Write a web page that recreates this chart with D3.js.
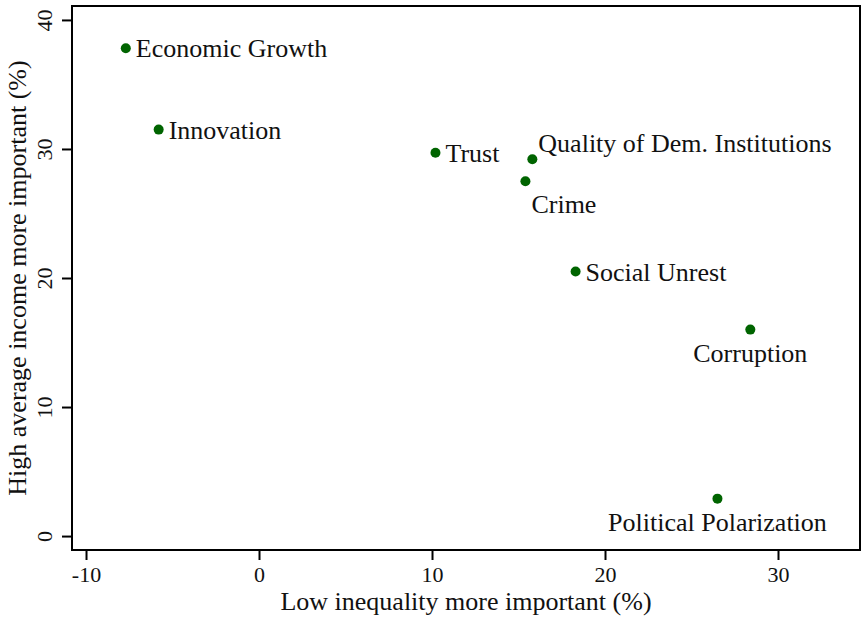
<!DOCTYPE html>
<html>
<head>
<meta charset="utf-8">
<script src="https://cdn.jsdelivr.net/npm/d3@7"></script>
<style>
  body { margin: 0; background: #fff; }
  text { font-family: "Liberation Serif", "DejaVu Serif", serif; fill: #111; }
</style>
</head>
<body>
<div id="chart"></div>
<script>
// values
var topics = ["Economic Growth", "Innovation", "Trust", "Quality of Dem. Institutions",
              "Crime", "Social Unrest", "Corruption", "Political Polarization"];
var lowInequality = [-7.7, -5.8, 10.2, 15.8, 15.4, 18.3, 28.4, 26.5];
var highIncome = [37.8, 31.5, 29.7, 29.2, 27.5, 20.5, 16.0, 2.9];
// where each label sits relative to its marker
var labelPos = ["right", "right", "right", "upright", "belowright", "right", "below", "below"];
var xTicks = [-10, 0, 10, 20, 30];
var yTicks = [0, 10, 20, 30, 40];

var width = 863, height = 619;
var margin = {top: 6, right: 3, bottom: 69, left: 72};

var svg = d3.select("#chart").append("svg")
    .attr("width", width)
    .attr("height", height);

var x = d3.scaleLinear()
    .domain([-10.81, 34.74])
    .range([margin.left, width - margin.right]);

var y = d3.scaleLinear()
    .domain([-1.08, 41.08])
    .range([height - margin.bottom, margin.top]);

// plain hyphen for negatives, like the original
var fmt = function(d) { return String(d); };

// plot frame
svg.append("rect")
    .attr("x", margin.left)
    .attr("y", margin.top)
    .attr("width", width - margin.left - margin.right)
    .attr("height", height - margin.top - margin.bottom)
    .attr("fill", "none")
    .attr("stroke", "#000")
    .attr("stroke-width", 2);

// x axis
var xAxis = svg.append("g")
    .attr("transform", `translate(0, ${height - margin.bottom})`)
    .call(d3.axisBottom(x).tickValues(xTicks).tickSize(10).tickPadding(6).tickFormat(fmt));
xAxis.select(".domain").remove();
xAxis.selectAll("line").attr("stroke-width", 2);
xAxis.selectAll("text")
    .style("font-family", "Liberation Serif")
    .style("font-size", "22px")
    .attr("fill", "#111");

// y axis, labels rotated like the original
var yAxis = svg.append("g")
    .attr("transform", `translate(${margin.left}, 0)`)
    .call(d3.axisLeft(y).tickValues(yTicks).tickSize(10).tickFormat(fmt));
yAxis.select(".domain").remove();
yAxis.selectAll("line").attr("stroke-width", 2);
yAxis.selectAll("text")
    .attr("x", null).attr("dy", null)
    .attr("transform", "translate(-20, 0) rotate(-90)")
    .attr("text-anchor", "middle")
    .style("font-family", "Liberation Serif")
    .style("font-size", "22px")
    .attr("fill", "#111");

// axis titles
svg.append("text")
    .attr("x", (margin.left + width - margin.right) / 2)
    .attr("y", 610)
    .attr("text-anchor", "middle")
    .style("font-size", "26px")
    .text("Low inequality more important (%)");

svg.append("text")
    .attr("transform", `translate(26, ${(margin.top + height - margin.bottom) / 2}) rotate(-90)`)
    .attr("text-anchor", "middle")
    .style("font-size", "26px")
    .text("High average income more important (%)");

var data = topics.map(function(t, i) {
  return {name: t, lx: lowInequality[i], hy: highIncome[i], pos: labelPos[i]};
});

svg.selectAll("circle.pt")
    .data(data)
    .enter()
    .append("circle")
    .attr("class", "pt")
    .attr("cx", function(d) { return x(d.lx); })
    .attr("cy", function(d) { return y(d.hy); })
    .attr("r", 5)
    .attr("fill", "#006400");

svg.selectAll("text.lab")
    .data(data)
    .enter()
    .append("text")
    .attr("class", "lab")
    .style("font-size", "26px")
    .attr("text-anchor", function(d) { return d.pos === "below" ? "middle" : "start"; })
    .attr("x", function(d) {
      if (d.pos === "below") return x(d.lx);
      if (d.pos === "upright") return x(d.lx) + 6;
      if (d.pos === "belowright") return x(d.lx) + 6;
      return x(d.lx) + 10;
    })
    .attr("y", function(d) {
      if (d.pos === "below" || d.pos === "belowright") return y(d.hy) + 32;
      if (d.pos === "upright") return y(d.hy) - 7;
      return y(d.hy) + 9;
    })
    .text(function(d) { return d.name; });
</script>
</body>
</html>
